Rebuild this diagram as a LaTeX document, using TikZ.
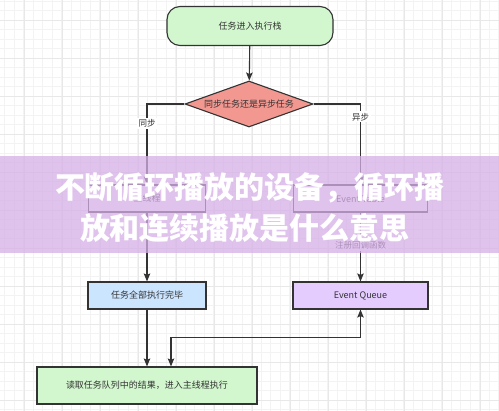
\documentclass[tikz,border=0pt]{standalone}
\usepackage{fontspec}
\setmainfont{Noto Sans CJK SC}
\usetikzlibrary{shapes.geometric,arrows.meta}
\definecolor{edgec}{HTML}{333333}
\definecolor{txtc}{HTML}{333333}
\definecolor{greenf}{HTML}{D2F7CE}
\definecolor{redf}{HTML}{F29891}
\definecolor{bluef}{HTML}{CCE5FF}
\definecolor{purplef}{HTML}{E5CCFF}
\definecolor{bandc}{HTML}{D6B0E8}
\definecolor{gridminor}{HTML}{F3F3F3}
\definecolor{gridmajor}{HTML}{E8E8E8}
\tikzset{
  boxbase/.style={draw=edgec, line width=1.1pt, text=txtc, inner sep=0pt,
    font=\fontsize{9}{11}\selectfont},
  termbox/.style={boxbase, fill=greenf, rounded corners=13pt,
    minimum width=166pt, minimum height=39pt},
  decbox/.style={boxbase, fill=redf, shape=diamond, aspect=2.78,
    minimum width=128pt, minimum height=46pt},
  bluebox/.style={boxbase, fill=bluef, minimum width=118pt, minimum height=27pt},
  purplebox/.style={boxbase, fill=purplef, minimum width=135pt, minimum height=27pt},
  plainbox/.style={boxbase, fill=white, minimum width=117pt, minimum height=27pt},
  greenbox/.style={boxbase, fill=greenf, minimum width=220pt, minimum height=37pt},
  conn/.style={draw=edgec, line width=1.1pt,
    -{Stealth[length=8pt,width=6.5pt,inset=1.5pt]}},
  biconn/.style={draw=edgec, line width=1.1pt,
    {Stealth[length=8pt,width=6.5pt,inset=1.5pt]}-{Stealth[length=8pt,width=6.5pt,inset=1.5pt]}},
  edgelabel/.style={fill=white, text=txtc, inner sep=1.5pt,
    font=\fontsize{8.5}{10}\selectfont},
  titletext/.style={text=white, font=\fontsize{30}{32}\selectfont\bfseries, inner sep=0pt}
}
\begin{document}
\begin{tikzpicture}[x=1pt,y=-1pt]
\useasboundingbox (0,0) rectangle (499,411);
\fill[white] (0,0) rectangle (499,411);
% grid
\foreach \i in {0,...,53} {
  \draw[gridminor, line width=0.5pt] ({4.5+\i*9.5},0) -- ({4.5+\i*9.5},411);
}
\foreach \i in {0,...,44} {
  \draw[gridminor, line width=0.5pt] (0,{1+\i*9.5}) -- (499,{1+\i*9.5});
}
\foreach \i in {0,...,13} {
  \draw[gridmajor, line width=0.6pt] ({24+\i*38},0) -- ({24+\i*38},411);
}
\foreach \i in {0,...,11} {
  \draw[gridmajor, line width=0.6pt] (0,{20+\i*38}) -- (499,{20+\i*38});
}
% nodes
\node[termbox] (start) at (250,26) {任务进入执行栈};
\node[decbox] (dec) at (249,104) {同步任务还是异步任务};
\node[plainbox] (main) at (147,198.5) {主线程};
\node[plainbox, minimum width=134pt] (etable) at (360.5,198.5) {Event Table};
\node[bluebox] (done) at (147,295.5) {任务全部执行完毕};
\node[purplebox] (equeue) at (360.5,295.5) {Event Queue};
\node[greenbox] (final) at (147,385.5) {读取任务队列中的结果，进入主线程执行};
% connectors
\draw[conn] (start) -- (dec);
\draw[conn] (dec.west) -| node[edgelabel, pos=0.62] {同步} (main.north);
\draw[conn] (dec.east) -| node[edgelabel, pos=0.58] {异步} (etable.north);
\draw[conn] (main) -- (done);
\draw[conn] (etable) -- node[edgelabel, pos=0.48] {注册回调函数} (equeue);
\draw[conn] (done) -- (final);
\draw[biconn] ([xshift=24pt]final.north) -- ++(0,-29) -| (equeue.south);
% overlay band
\fill[bandc, opacity=0.75] (0,156) rectangle (499,253);
\node[titletext] (t1) at (250,188) {不断循环播放的设备，循环播};
\node[titletext] (t2) at (245,228) {放和连续播放是什么意思};
\end{tikzpicture}
\end{document}
